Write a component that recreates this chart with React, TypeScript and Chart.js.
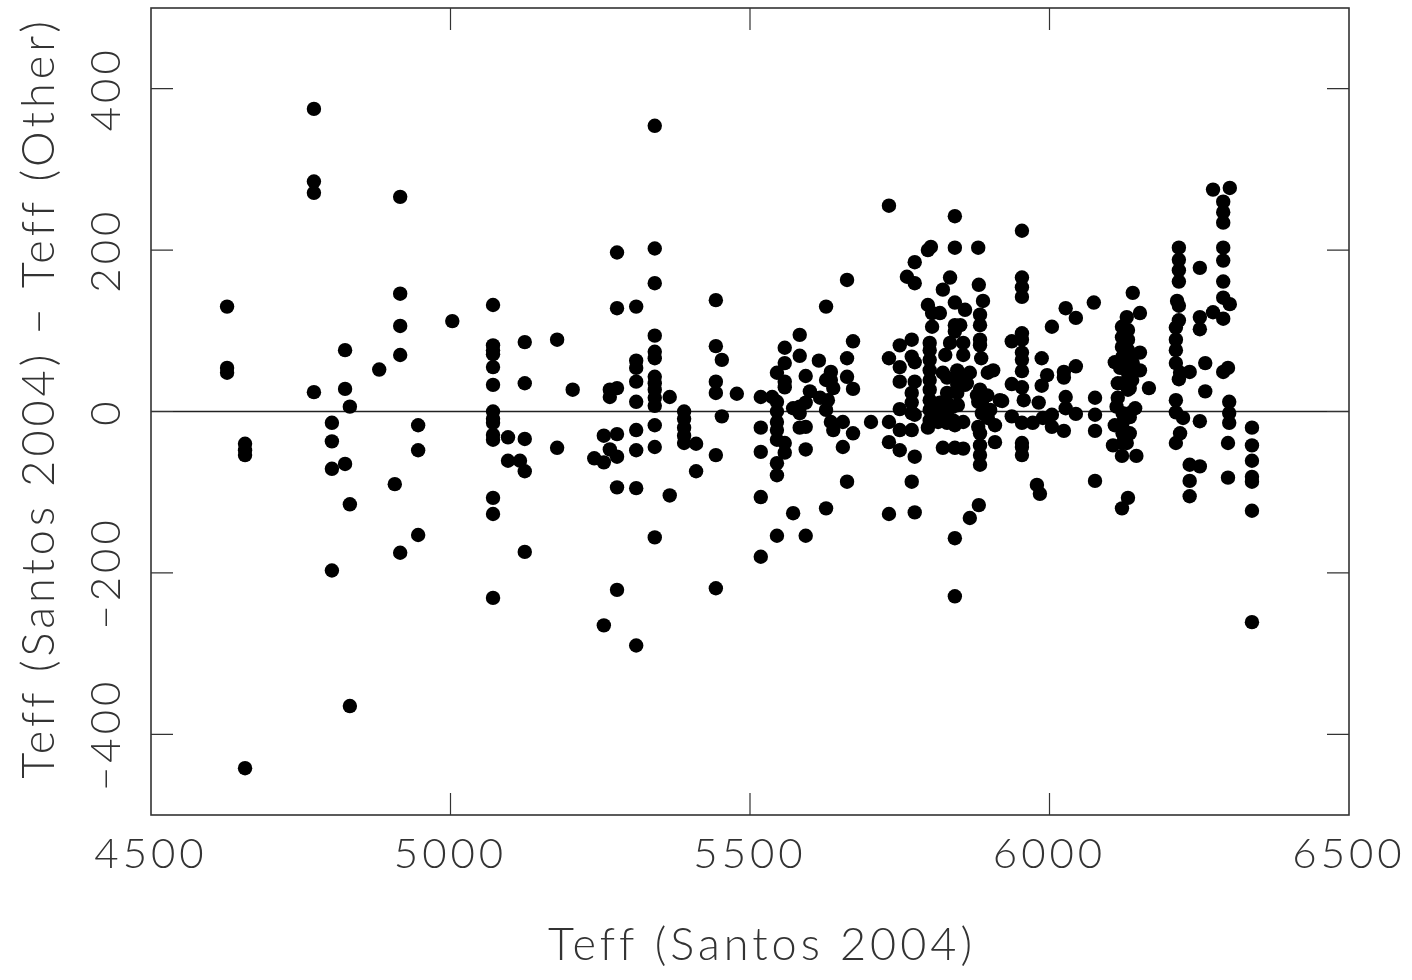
import React, { useEffect, useRef } from "react";
import { Chart, registerables } from "chart.js";

Chart.register(...registerables);

const xTicks = [4500, 5000, 5500, 6000, 6500];
const yTicks = [-400, -200, 0, 200, 400];
const xTitle = "Teff (Santos 2004)";
const yTitle = "Teff (Santos 2004) − Teff (Other)";

// [Teff (Santos 2004), Teff difference...] per column of stars
const coolStars: number[][] = [
  [4627, 130, 54, 48], [4657, -40, -48, -54, -442], [4772, 375, 285, 271, 24],
  [4802, -14, -37, -71, -197], [4824, 76, 28, -65], [4832, 6, -115, -365], [4881, 52],
  [4907, -90], [4916, 266, 146, 106, 70, -175], [4946, -17, -48, -153], [5003, 112],
  [5071, 132, 82, 76, 71, 55, 33, 0, -9, -14, -29, -35, -107, -127, -231],
  [5096, -32, -61], [5116, -61], [5124, 86, 35, -34, -74, -174], [5178, 89, -45], [5204, 27],
];
const midStars: number[][] = [
  [5240, -58], [5256, -30, -63, -265], [5266, 27, 18, -47],
  [5278, 197, 128, 29, -28, -56, -94, -221],
  [5310, 130, 63, 54, 37, 12, -23, -48, -95, -290],
  [5341, 354, 202, 159, 94, 74, 66, 43, 35, 27, 17, 7, -17, -44, -156],
  [5366, 18, -104], [5390, 0, -9, -20, -30, -39], [5410, -40, -74],
  [5443, 138, 81, 37, 23, -54, -219], [5453, 64, -6], [5478, 22],
];
const warmStars: number[][] = [
  [5518, 18, -20, -50, -106, -180], [5537, 18], [5545, 48, 12, 0, -13, -23, -35, -64, -79, -154],
  [5558, 79, 60, 37, 30, -39, -51], [5572, 4, -126], [5583, 95, 69, 6, -2, -20],
  [5593, 44, 11, -19, -47, -154], [5600, 25], [5615, 63], [5617, 17],
  [5627, 130, 39, 2, -120], [5630, 14], [5635, 49, 39, -13], [5639, 29, -23],
  [5655, -13, -44], [5662, 163, 66, 43, -87], [5672, 87, 28, -27], [5702, -13],
  [5732, 255, 66, -13, -38, -127], [5750, 82, 55, 37, 3, -23, -48], [5762, 167],
  [5770, 89, 68, 23, 11, -2, -23, -87], [5775, 185, 159, 61, 37, -4, -56, -125],
  [5797, 200, 132, -20], [5800, 85, 76, 64, 51, 39, 27, 14, 2, -11], [5802, 204], [5804, 122, 105],
];
const solarStars: number[][] = [
  [5817, 122, 11, -2], [5822, 151, 48, -45], [5826, 70], [5829, 23], [5834, 166, 85],
  [5839, 6, -11], [5842, 242, 203, 135, 107, 99, -17, -45, -157, -229], [5846, 43, 23],
  [5851, 107], [5856, 85, 70, -13, -46], [5859, 126], [5862, 35], [5867, 48, -132],
  [5881, 203, -19], [5882, 157, -116], [5884, 120, 107, 89, 82, 27, -42, -54, -66],
  [5886, 66], [5887, 11, -2], [5889, 137], [5896, 20], [5897, 48], [5901, 2],
  [5906, 51], [5909, -17, -38], [5917, 14], [5921, 13],
  [5937, 87, 34, -6], [5954, 224, 166, 154, 142, 97, 89, 73, 64, 50, 30, -14, -39, -44, -54],
  [5957, 14], [5972, -14], [5979, -91], [5982, 11], [5984, -102], [5987, 66, 32],
  [5989, -8], [5996, 45], [6004, 105, -4, -19],
];
const hotStars: number[][] = [
  [6024, 49, 42, -24], [6027, 128, 18, 4], [6044, 116, 56, -3], [6074, 135],
  [6076, 17, -4, -24, -86], [6106, -42], [6109, 61, -17], [6112, 6], [6114, 35, 17],
  [6118, 54], [6121, 105, 92, 80, -55, -120], [6122, -2, -14, -27, -39],
  [6129, 117], [6131, 101, 89, 76, 27, -107], [6134, -2, -27], [6138, 39],
  [6139, 147, 60], [6143, 4], [6145, -55], [6151, 122, 73, 51], [6166, 29],
  [6211, 104, 89, 76, 60, 14, -1, -39], [6213, 137], [6216, 203, 188, 175, 161, 131, 113, 40],
  [6218, 48, -27], [6223, -8], [6234, 49, -66, -86, -105], [6251, 178, 117, 102, -12, -68],
  [6260, 60, 25], [6273, 275, 123], [6290, 260, 247, 234, 203, 187, 161, 141, 115, 49],
  [6298, 54, -39, -82], [6300, 12, -2, -14], [6301, 277, 133],
  [6338, -20, -42, -61, -81, -87, -123, -261],
];
// stars read from inside the two crowded clumps
const crowdedStars: number[][] = [
  [5814, -2, -13], [5829, 42, 11, -2, -14], [5846, 51, 33], [5847, 8], [5859, 33],
  [5879, 20], [5881, 12], [5884, -27], [5897, -8],
  [6122, 68, 55, 35], [6131, 48], [6134, 64, 35, 29, -7], [6129, -27, -39],
];

const zeroLine = [{ x: 4500, y: 0 }, { x: 6500, y: 0 }];
const stars = [...coolStars, ...midStars, ...warmStars, ...solarStars, ...hotStars, ...crowdedStars].flatMap(
  ([teff, ...diffs]) => diffs.map((d) => ({ x: teff, y: d })),
);

const INK = "#333333";
const TICK_FONT = { family: "Lato", size: 42, weight: "300" as const, lineHeight: 1.2 };
const TITLE_FONT = { family: "Lato", size: 45, weight: "300" as const, lineHeight: 1.2 };

const framePlugin = {
  id: "frame",
  afterLayout(chart: any) {
    // the titles sit off-centre from the plot: nudge the extents they are centred in
    chart.scales.x.right += 24;
    chart.scales.y.bottom -= 27;
  },
  beforeDraw(chart: any) {
    chart.ctx.letterSpacing = "4px";
  },
  afterDatasetsDraw(chart: any) {
    const { ctx, chartArea: a, scales } = chart;
    const len = 22;
    ctx.save();
    ctx.strokeStyle = INK;
    ctx.lineWidth = 1.6;
    ctx.strokeRect(a.left, a.top, a.right - a.left, a.bottom - a.top);
    ctx.lineWidth = 1.2;
    ctx.beginPath();
    for (const v of xTicks.slice(1, -1)) {
      const px = scales.x.getPixelForValue(v);
      ctx.moveTo(px, a.bottom); ctx.lineTo(px, a.bottom - len);
      ctx.moveTo(px, a.top); ctx.lineTo(px, a.top + len);
    }
    for (const v of yTicks) {
      const py = scales.y.getPixelForValue(v);
      ctx.moveTo(a.left, py); ctx.lineTo(a.left + len, py);
      ctx.moveTo(a.right, py); ctx.lineTo(a.right - len, py);
    }
    ctx.stroke();
    ctx.restore();
  },
};

export default function App() {
  const ref = useRef<HTMLCanvasElement>(null);
  useEffect(() => {
    document.body.style.margin = "0";
    const chart = new Chart(ref.current!, {
      type: "scatter",
      data: {
        datasets: [
          {
            data: stars,
            backgroundColor: "#000000",
            borderColor: "#000000",
            pointRadius: 7.2,
            pointBorderWidth: 0,
            order: 1,
          },
          {
            data: zeroLine,
            showLine: true,
            borderColor: "#222222",
            borderWidth: 1.5,
            pointRadius: 0,
            order: 2,
          },
        ],
      },
      options: {
        animation: false,
        responsive: false,
        events: [],
        layout: { padding: { top: 8, right: 63, left: 0, bottom: 0 } },
        plugins: { legend: { display: false }, tooltip: { enabled: false } },
        scales: {
          x: {
            type: "linear",
            min: 4500,
            max: 6500,
            afterBuildTicks: (s: any) => { s.ticks = xTicks.map((value) => ({ value })); },
            afterFit: (s: any) => { s.height = 165; s.paddingLeft = 0; s.paddingRight = 0; },
            grid: { display: false, drawTicks: false },
            border: { display: false },
            ticks: {
              color: INK,
              font: TICK_FONT,
              padding: 14,
              maxRotation: 0,
              minRotation: 0,
              autoSkip: false,
              callback: (v: any) => String(v),
            },
            title: { display: true, text: xTitle, color: INK, font: TITLE_FONT, padding: { top: 0, bottom: 8 } },
          },
          y: {
            type: "linear",
            min: -500,
            max: 500,
            afterBuildTicks: (s: any) => { s.ticks = yTicks.map((value) => ({ value })); },
            afterFit: (s: any) => { s.width = 151; s.paddingTop = 0; s.paddingBottom = 0; },
            grid: { display: false, drawTicks: false },
            border: { display: false },
            ticks: {
              color: INK,
              font: TICK_FONT,
              padding: -4,
              minRotation: 90,
              maxRotation: 90,
              crossAlign: "center",
              autoSkip: false,
              callback: (v: any) => String(v).replace("-", "−"),
            },
            title: { display: true, text: yTitle, color: INK, font: TITLE_FONT, padding: { top: 12, bottom: 0 } },
          },
        },
      },
      plugins: [framePlugin],
    } as any);
    return () => chart.destroy();
  }, []);
  return <canvas ref={ref} width={1412} height={980} style={{ display: "block", width: 1412, height: 980 }} />;
}
